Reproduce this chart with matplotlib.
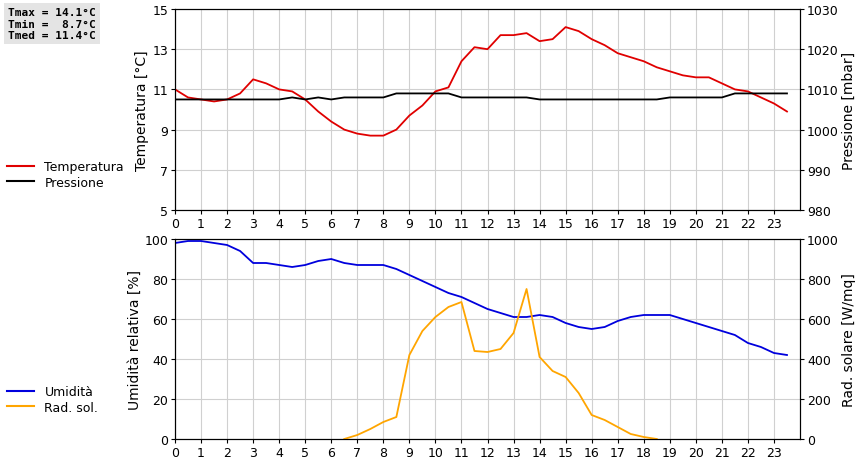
import numpy as np
import matplotlib
matplotlib.use("Agg")
import matplotlib.pyplot as plt
from matplotlib.lines import Line2D

hours = [i*0.5 for i in range(48)]
temp = [11.0,10.6,10.5,10.4,10.5,10.8,11.5,11.3,11.0,10.9,10.5,9.9,9.4,9.0,8.8,8.7,8.7,9.0,9.7,10.2,
        10.9,11.1,12.4,13.1,13.0,13.7,13.7,13.8,13.4,13.5,14.1,13.9,13.5,13.2,12.8,12.6,12.4,12.1,11.9,11.7,
        11.6,11.6,11.3,11.0,10.9,10.6,10.3,9.9]
press = [1007.5]*9 + [1008,1007.5,1008,1007.5] + [1008]*4 + [1009]*5 + [1008]*6 + [1007.5]*10 + [1008]*5 + [1009]*5
hum = [98,99,99,98,97,94,88,88,87,86,87,89,90,88,87,87,87,85,82,79,76,73,71,68,65,63,61,61,62,61,
       58,56,55,56,59,61,62,62,62,60,58,56,54,52,48,46,43,42]
rad = [np.nan]*13 + [0,20,50,85,110,420,540,610,660,685,440,435,450,530,750,410,340,310,230,120,95,60,25,10,0] + [np.nan]*10
stats = "Tmax = 14.1°C\nTmin =  8.7°C\nTmed = 11.4°C"

fig = plt.figure(figsize=(8.6,4.6), dpi=100)
ax1 = fig.add_axes([175/860, 1-211/460, 625/860, 201/460])
ax2 = fig.add_axes([175/860, 1-440/460, 625/860, 200/460])
ax1b = ax1.twinx(); ax2b = ax2.twinx()
for a in (ax1, ax2):
    a.set_xlim(0,24); a.set_xticks(range(24))
    a.grid(True, color="#d0d0d0", lw=0.8); a.set_axisbelow(True)
    a.tick_params(labelsize=9, direction="out", length=3, pad=2)
for a in (ax1b, ax2b):
    a.tick_params(labelsize=9, direction="out", length=3, pad=2)
ax1.plot(hours, temp, color="#e00000", lw=1.3, zorder=3)
ax1b.plot(hours, press, color="black", lw=1.3)
ax1.set_ylim(5,15); ax1.set_yticks(range(5,16,2))
ax1b.set_ylim(980,1030); ax1b.set_yticks(range(980,1031,10))
ax1.set_ylabel("Temperatura [°C]", fontsize=10, labelpad=2)
ax1b.set_ylabel("Pressione [mbar]", fontsize=10, labelpad=2)
ax2.plot(hours, hum, color="#0000dd", lw=1.3, zorder=3)
ax2b.plot(hours, rad, color="#ffa500", lw=1.3)
ax2.set_ylim(0,100); ax2.set_yticks(range(0,101,20))
ax2b.set_ylim(0,1000); ax2b.set_yticks(range(0,1001,200))
ax2.set_ylabel("Umidità relativa [%]", fontsize=10, labelpad=2)
ax2b.set_ylabel("Rad. solare [W/mq]", fontsize=10, labelpad=2)

fig.text(8/860, 1-8/460, stats, family="DejaVu Sans Mono", fontweight="bold", fontsize=8,
         va="top", ha="left", bbox=dict(facecolor="#e4e4e4", edgecolor="none", pad=3))
fig.legend([Line2D([],[],color="#e00000",lw=1.5), Line2D([],[],color="black",lw=1.5)],
           ["Temperatura","Pressione"], loc="upper left", bbox_to_anchor=(-0.005, 1-150/460),
           frameon=False, fontsize=9, handlelength=2.2, labelspacing=0.2)
fig.legend([Line2D([],[],color="#0000dd",lw=1.5), Line2D([],[],color="#ffa500",lw=1.5)],
           ["Umidità","Rad. sol."], loc="upper left", bbox_to_anchor=(-0.005, 1-375/460),
           frameon=False, fontsize=9, handlelength=2.2, labelspacing=0.2)
fig.savefig("out.png", dpi=100)
